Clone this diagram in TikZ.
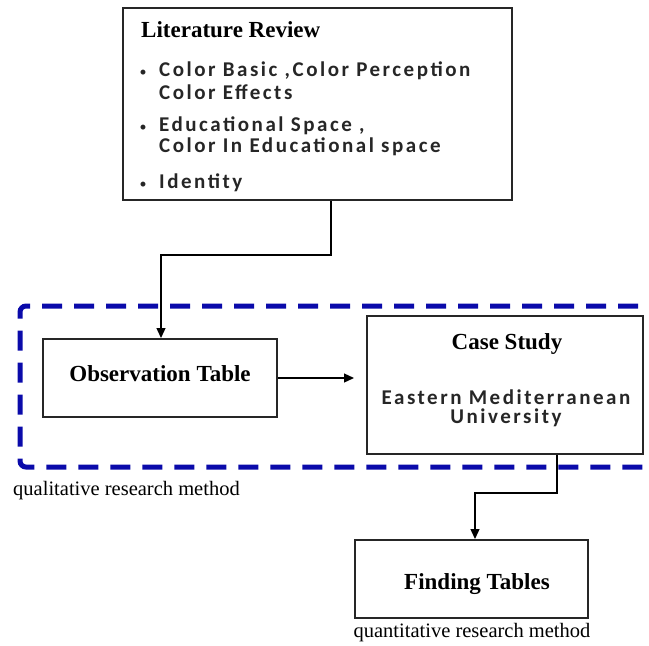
\documentclass[tikz,border=0pt]{standalone}
\usepackage{fontspec}
\setmainfont{Liberation Serif}
\newfontfamily\bulfont{Carlito}[LetterSpace=12]
\usetikzlibrary{arrows.meta}
\definecolor{dashblue}{RGB}{10,10,170}
\tikzset{
  boxnode/.style={draw=black!85, line width=2pt, inner sep=0pt},
  head/.style={font=\fontsize{23}{26}\selectfont\bfseries, inner sep=0pt},
  bul/.style={font=\fontsize{21}{23}\bulfont\bfseries, text=black!85, inner sep=0pt, anchor=west},
  dot/.style={font=\fontsize{14}{16}\bulfont, text=black!85, inner sep=0pt},
  lab/.style={font=\fontsize{20.5}{23}\selectfont, inner sep=0pt},
  conn/.style={draw=black, line width=1.3pt, -{Triangle[length=10pt,width=9pt]}},
  dashbox/.style={draw=dashblue, line width=5pt, dash pattern=on 20pt off 12pt, rounded corners=6pt}
}
\begin{document}
\begin{tikzpicture}[x=1pt,y=-1pt]
\useasboundingbox (0,0) rectangle (649,646);
\begin{scope}
\clip (0,0) rectangle (649,646);
\draw[dashbox] (670,306) -- (20,306) -- (20,467) -- (670,467);
\end{scope}
% boxes
\node[boxnode, minimum width=389pt, minimum height=192pt] (lit) at (317.5,104) {};
\node[boxnode, minimum width=234pt, minimum height=78pt] (obs) at (160,378) {};
\node[boxnode, minimum width=276pt, minimum height=138pt] (case) at (505,385) {};
\node[boxnode, minimum width=233pt, minimum height=78pt] (find) at (471.5,579) {};
% literature text
\node[head, anchor=west] (lithead) at (141,30) {Literature Review};
\node[dot] (b1) at (143,73) {•};
\node[bul] (t1) at (159,71) {Color Basic ,Color Perception};
\node[bul] (t1b) at (159,92) {Color Effects};
\node[dot] (b2) at (143,128) {•};
\node[bul] (t2) at (159,126) {Educational Space ,};
\node[bul] (t2b) at (159,147) {Color In Educational space};
\node[dot] (b3) at (143,185) {•};
\node[bul] (t3) at (159,183) {Identity};
% other texts
\node[head] (obstxt) at (160,374) {Observation Table};
\node[head] (casetxt) at (507,344) {Case Study};
\node[bul, anchor=center] (eastern) at (506,397) {Eastern Mediterranean};
\node[bul, anchor=center] (univ) at (506,418) {University};
\node[head] (findtxt) at (477,584) {Finding Tables};
\node[lab, anchor=west] (qual) at (13,491) {qualitative research method};
\node[lab] (quant) at (472,633) {quantitative research method};
% connectors
\coordinate (c1) at (331,255);
\coordinate (c2) at (161,255);
\draw[conn] (lit.south -| c1) -- (c1) -- (c2) -- (c2 |- obs.north);
\draw[conn, shorten >=12pt] (obs.east) -- (obs.east -| case.west);
\coordinate (c3) at (557,493);
\coordinate (c4) at (475,493);
\draw[conn] (case.south -| c3) -- (c3) -- (c4) -- (c4 |- find.north);
\end{tikzpicture}
\end{document}
